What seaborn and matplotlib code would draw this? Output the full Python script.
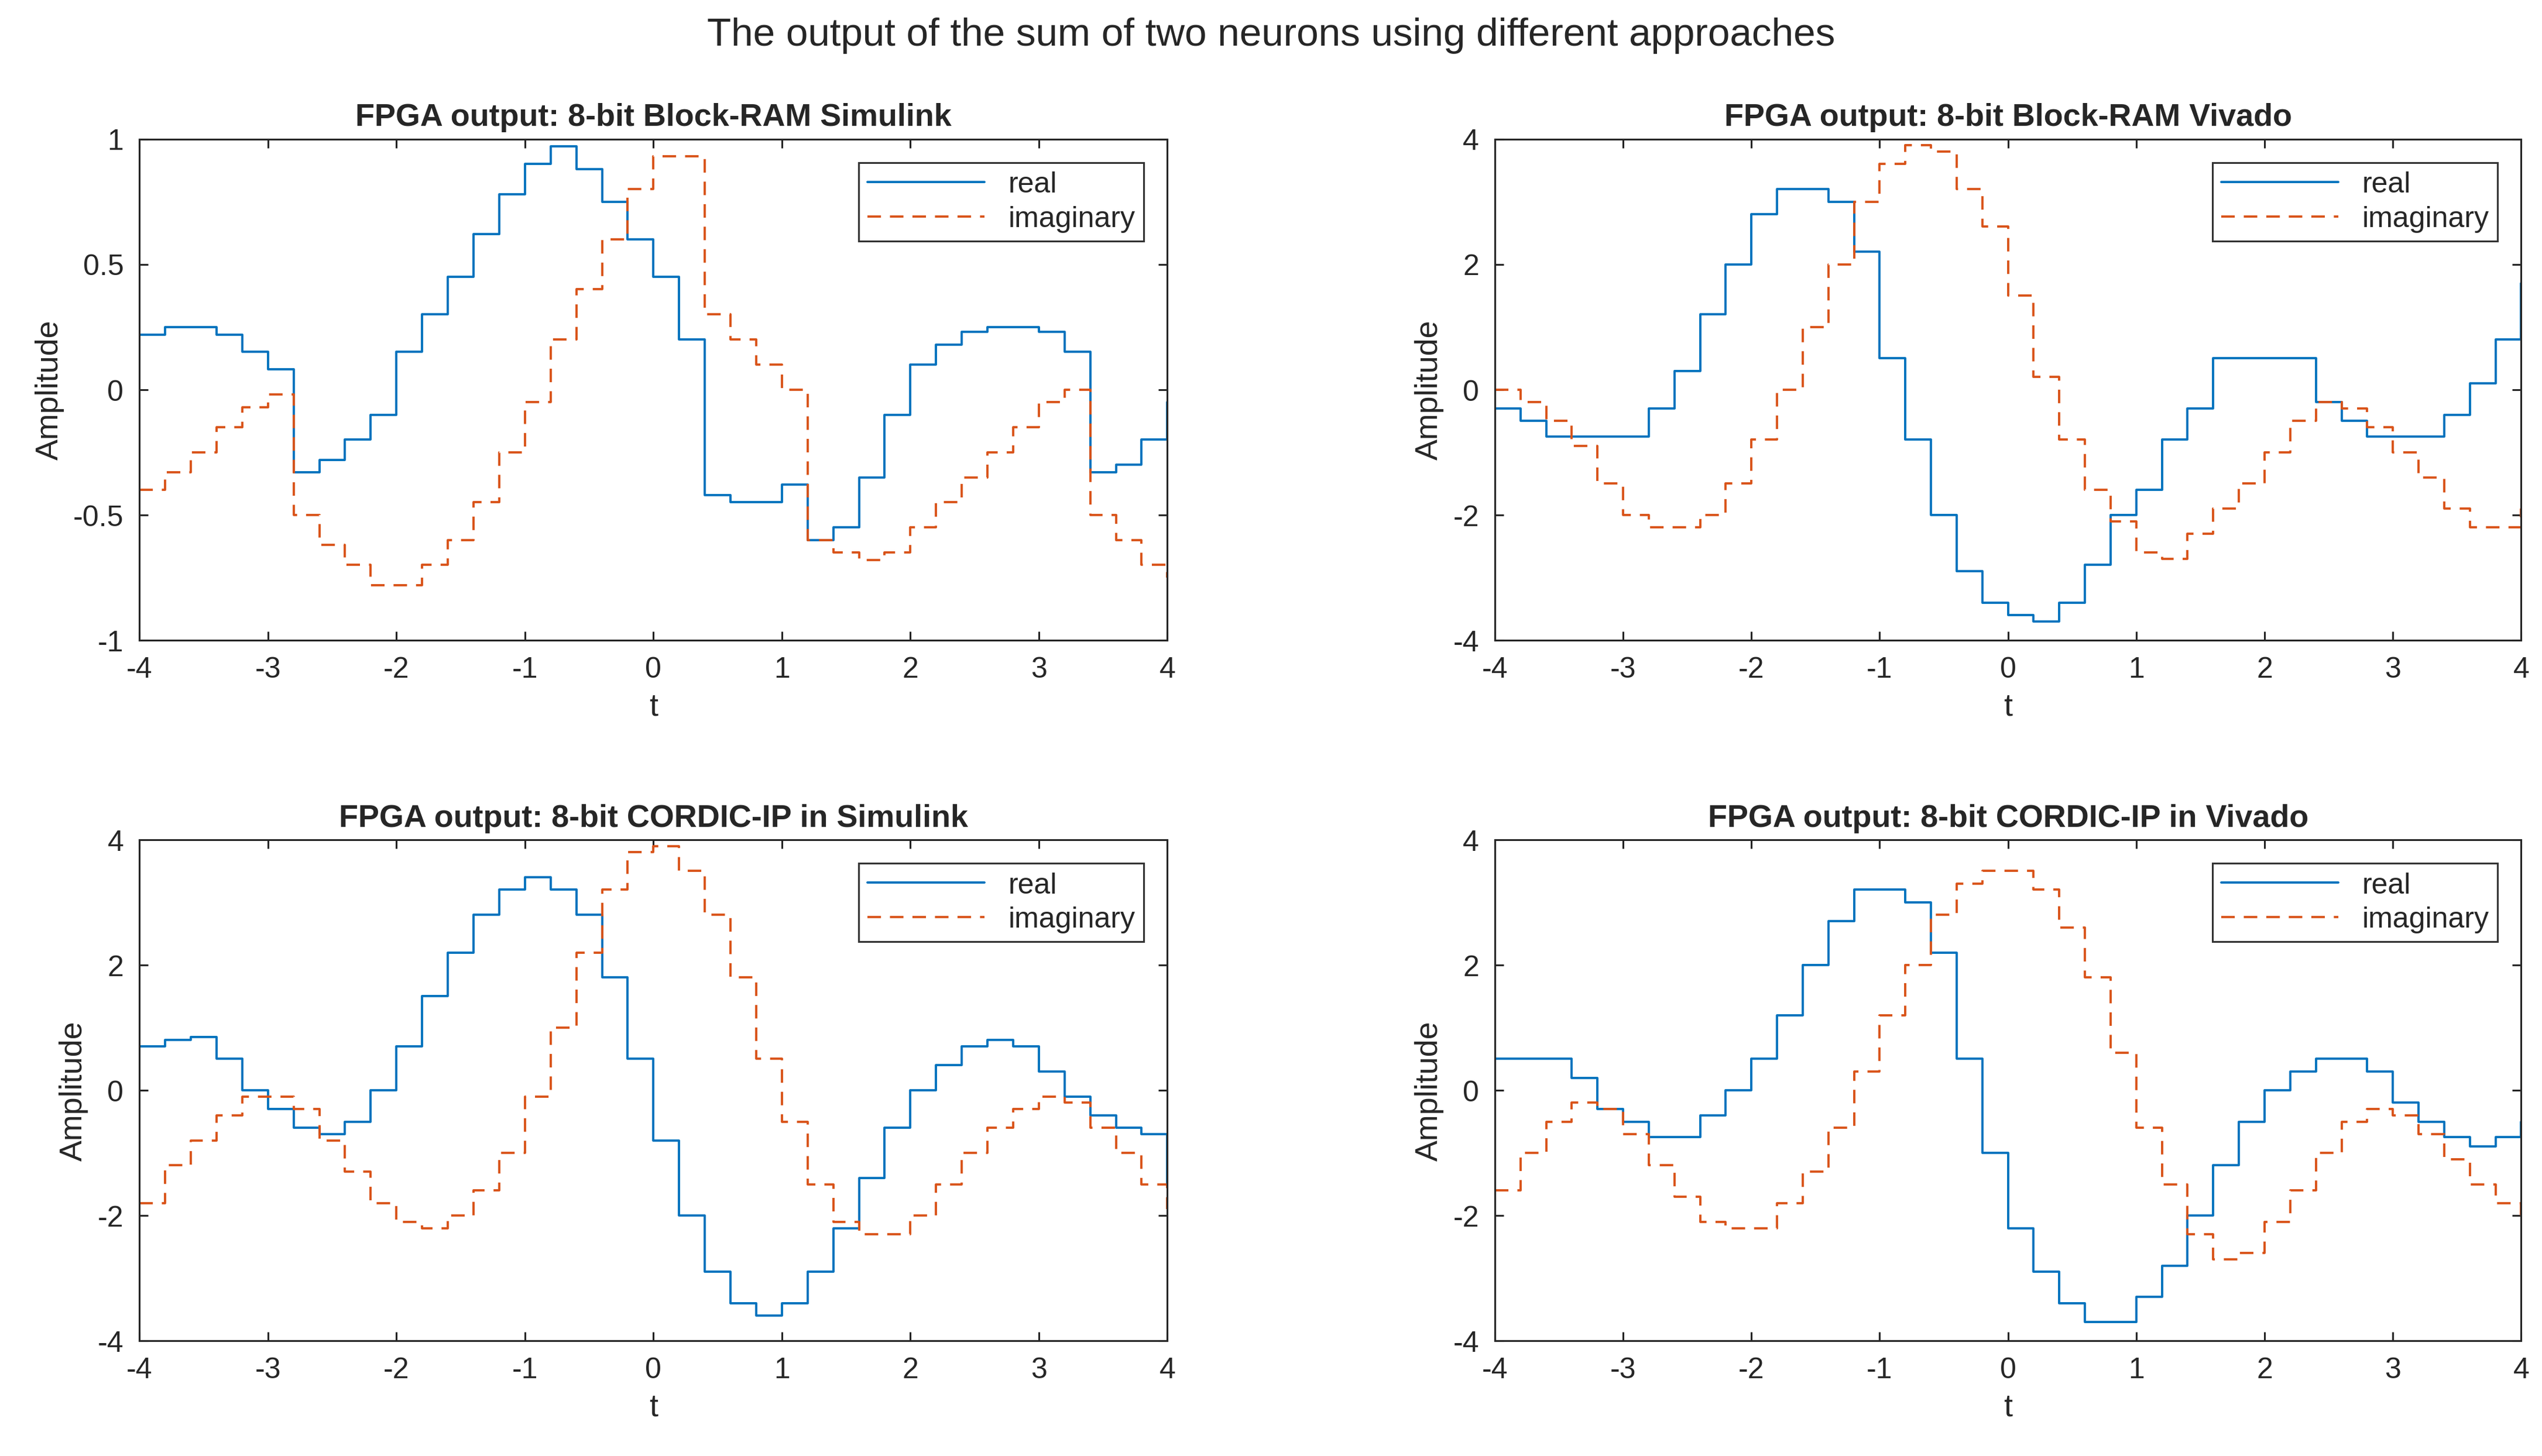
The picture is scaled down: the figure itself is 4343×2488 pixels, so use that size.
import numpy as np
import pandas as pd
import matplotlib
matplotlib.use("Agg")
import matplotlib.pyplot as plt
import seaborn as sns

t = [round(-4 + 0.2 * i, 1) for i in range(41)]

bram_sim_real = [0.22,0.25,0.25,0.22,0.15,0.08,-0.33,-0.28,-0.2,-0.1,0.15,0.3,0.45,0.62,0.78,0.9,0.97,0.88,0.75,0.6,0.45,0.2,-0.42,-0.45,-0.45,-0.38,-0.6,-0.55,-0.35,-0.1,0.1,0.18,0.23,0.25,0.25,0.23,0.15,-0.33,-0.3,-0.2,-0.05]
bram_sim_imag = [-0.4,-0.33,-0.25,-0.15,-0.07,-0.02,-0.5,-0.62,-0.7,-0.78,-0.78,-0.7,-0.6,-0.45,-0.25,-0.05,0.2,0.4,0.6,0.8,0.93,0.93,0.3,0.2,0.1,0.0,-0.6,-0.65,-0.68,-0.65,-0.55,-0.45,-0.35,-0.25,-0.15,-0.05,0.0,-0.5,-0.6,-0.7,-0.75]

bram_viv_real = [-0.3,-0.5,-0.75,-0.75,-0.75,-0.75,-0.3,0.3,1.2,2.0,2.8,3.2,3.2,3.0,2.2,0.5,-0.8,-2.0,-2.9,-3.4,-3.6,-3.7,-3.4,-2.8,-2.0,-1.6,-0.8,-0.3,0.5,0.5,0.5,0.5,-0.2,-0.5,-0.75,-0.75,-0.75,-0.4,0.1,0.8,1.7]
bram_viv_imag = [0.0,-0.2,-0.5,-0.9,-1.5,-2.0,-2.2,-2.2,-2.0,-1.5,-0.8,0.0,1.0,2.0,3.0,3.6,3.9,3.8,3.2,2.6,1.5,0.2,-0.8,-1.6,-2.1,-2.6,-2.7,-2.3,-1.9,-1.5,-1.0,-0.5,-0.2,-0.3,-0.6,-1.0,-1.4,-1.9,-2.2,-2.2,-1.9]

cordic_sim_real = [0.7,0.8,0.85,0.5,0.0,-0.3,-0.6,-0.7,-0.5,0.0,0.7,1.5,2.2,2.8,3.2,3.4,3.2,2.8,1.8,0.5,-0.8,-2.0,-2.9,-3.4,-3.6,-3.4,-2.9,-2.2,-1.4,-0.6,0.0,0.4,0.7,0.8,0.7,0.3,-0.1,-0.4,-0.6,-0.7,-1.5]
cordic_sim_imag = [-1.8,-1.2,-0.8,-0.4,-0.1,-0.1,-0.3,-0.8,-1.3,-1.8,-2.1,-2.2,-2.0,-1.6,-1.0,-0.1,1.0,2.2,3.2,3.8,3.9,3.5,2.8,1.8,0.5,-0.5,-1.5,-2.1,-2.3,-2.3,-2.0,-1.5,-1.0,-0.6,-0.3,-0.1,-0.2,-0.6,-1.0,-1.5,-1.9]

cordic_viv_real = [0.5,0.5,0.5,0.2,-0.3,-0.5,-0.75,-0.75,-0.4,0.0,0.5,1.2,2.0,2.7,3.2,3.2,3.0,2.2,0.5,-1.0,-2.2,-2.9,-3.4,-3.7,-3.7,-3.3,-2.8,-2.0,-1.2,-0.5,0.0,0.3,0.5,0.5,0.3,-0.2,-0.5,-0.75,-0.9,-0.75,-0.5]
cordic_viv_imag = [-1.6,-1.0,-0.5,-0.2,-0.3,-0.7,-1.2,-1.7,-2.1,-2.2,-2.2,-1.8,-1.3,-0.6,0.3,1.2,2.0,2.8,3.3,3.5,3.5,3.2,2.6,1.8,0.6,-0.6,-1.5,-2.3,-2.7,-2.6,-2.1,-1.6,-1.0,-0.5,-0.3,-0.4,-0.7,-1.1,-1.5,-1.8,-2.1]

titles = ["FPGA output: 8-bit Block-RAM Simulink", "FPGA output: 8-bit Block-RAM Vivado",
          "FPGA output: 8-bit CORDIC-IP in Simulink", "FPGA output: 8-bit CORDIC-IP in Vivado"]
series = [(bram_sim_real, bram_sim_imag), (bram_viv_real, bram_viv_imag),
          (cordic_sim_real, cordic_sim_imag), (cordic_viv_real, cordic_viv_imag)]
ylims = [(-1, 1), (-4, 4), (-4, 4), (-4, 4)]
yticks = [[-1, -0.5, 0, 0.5, 1], [-4, -2, 0, 2, 4], [-4, -2, 0, 2, 4], [-4, -2, 0, 2, 4]]
ytlabels = [["-1", "-0.5", "0", "0.5", "1"]] + [["-4", "-2", "0", "2", "4"]] * 3
xticks = list(range(-4, 5))

sns.set_style("ticks")
plt.rcParams["font.family"] = "Liberation Sans"
W, H = 1568, 898
fig = plt.figure(figsize=(15.68, 8.985), dpi=277)
boxes = [(86, 86, 720, 395), (922, 86, 1555, 395), (86, 518, 720, 827), (922, 518, 1555, 827)]
fig.text(0.5, 1 - 22 / H, "The output of the sum of two neurons using different approaches",
         fontsize=17.5, ha="center", va="center")
for k in range(4):
    x0, y0, x1, y1 = boxes[k]
    ax = fig.add_axes([x0 / W, 1 - y1 / H, (x1 - x0) / W, (y1 - y0) / H])
    re, im = series[k]
    df = pd.DataFrame({"t": t * 2, "v": re + im,
                       "part": ["real"] * len(t) + ["imaginary"] * len(t)})
    sns.lineplot(data=df, x="t", y="v", hue="part", style="part",
                 palette={"real": "#0072BD", "imaginary": "#D95319"},
                 dashes={"real": "", "imaginary": (6, 4)}, drawstyle="steps-post",
                 linewidth=1.0, ax=ax)
    ax.set_xlim(-4, 4)
    ax.set_ylim(*ylims[k])
    ax.set_xticks(xticks)
    ax.set_xticklabels([str(v) for v in xticks])
    ax.set_yticks(yticks[k])
    ax.set_yticklabels(ytlabels[k])
    ax.tick_params(labelsize=13, direction="in", length=4, pad=7)
    ax.tick_params(top=True, right=True)
    for s in ax.spines.values():
        s.set_linewidth(0.8)
    ax.set_title(titles[k], fontsize=14, fontweight="bold", pad=6)
    ax.set_xlabel("t", fontsize=14, labelpad=4)
    ax.set_ylabel("Amplitude", fontsize=14, labelpad=4)
    leg = ax.legend(loc="upper right", fontsize=13, frameon=True, fancybox=False,
                    edgecolor="black", handlelength=4, borderaxespad=0.8,
                    borderpad=0.3, labelspacing=0.25)
    leg.get_frame().set_linewidth(0.8)
fig.savefig("out.png", dpi=277, facecolor="white")
